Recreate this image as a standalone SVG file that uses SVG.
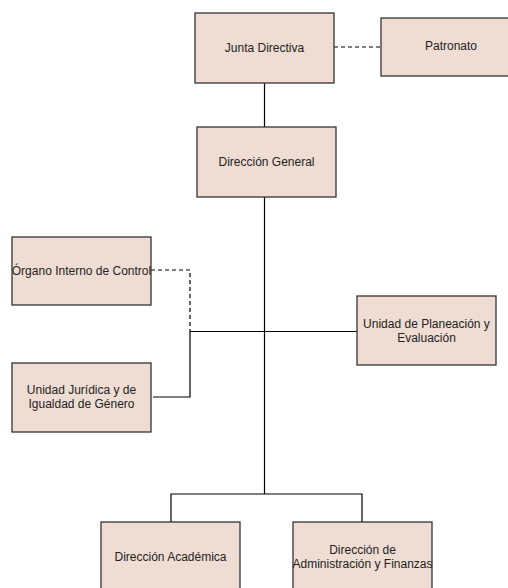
<svg xmlns="http://www.w3.org/2000/svg" width="508" height="588" viewBox="0 0 508 588">
<style>
.box{fill:#efddd3;stroke:#333333;stroke-width:1.3}
.t{font-family:"Liberation Sans",Arial,sans-serif;font-size:12px;fill:#222222;text-anchor:middle;dominant-baseline:central}
.c{fill:none;stroke:#000000;stroke-width:1.2}
.d{stroke-dasharray:4 3}
</style>
<rect width="508" height="588" fill="#ffffff"/>
<g id="connectors">
<line class="c d" x1="334" y1="47" x2="381" y2="47"/>
<line class="c" x1="264.5" y1="83" x2="264.5" y2="127"/>
<line class="c" x1="264.5" y1="197" x2="264.5" y2="494"/>
<polyline class="c d" points="151,270 190,270 190,331"/>
<line class="c" x1="190" y1="331.5" x2="357" y2="331.5"/>
<polyline class="c" points="153,397 190,397 190,331"/>
<polyline class="c" points="171,522 171,494 362,494 362,522"/>
</g>
<g id="junta"><rect class="box" x="195" y="13" width="139" height="70"/><text class="t" x="264.5" y="48">Junta Directiva</text></g>
<g id="patronato"><rect class="box" x="381" y="18" width="129" height="58"/><text class="t" x="451" y="46">Patronato</text></g>
<g id="general"><rect class="box" x="197" y="127" width="139" height="70"/><text class="t" x="266.5" y="162">Dirección General</text></g>
<g id="organo"><rect class="box" x="12" y="237" width="139" height="68"/><text class="t" x="81.5" y="271">Órgano Interno de Control</text></g>
<g id="planeacion"><rect class="box" x="357" y="296" width="139" height="69"/><text class="t" x="426.5" y="324">Unidad de Planeación y</text><text class="t" x="426.5" y="338">Evaluación</text></g>
<g id="juridica"><rect class="box" x="12" y="363" width="139" height="69"/><text class="t" x="81.5" y="390">Unidad Jurídica y de</text><text class="t" x="81.5" y="404">Igualdad de Género</text></g>
<g id="academica"><rect class="box" x="101" y="522" width="139" height="70"/><text class="t" x="170.5" y="557">Dirección Académica</text></g>
<g id="admin"><rect class="box" x="293" y="522" width="139" height="70"/><text class="t" x="362.5" y="550">Dirección de</text><text class="t" x="362.5" y="564">Administración y Finanzas</text></g>
</svg>
